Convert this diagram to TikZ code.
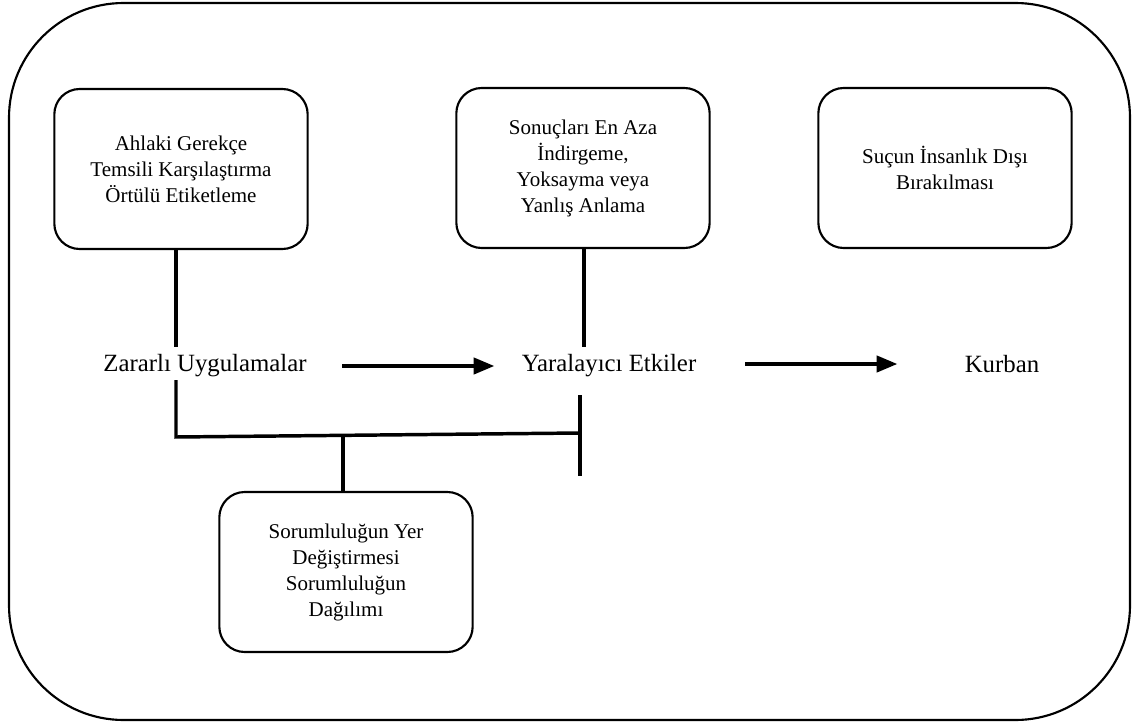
\documentclass[tikz,border=0pt]{standalone}
\usepackage{fontspec}
\setmainfont{Liberation Serif}
\usepackage{tikz}
\usetikzlibrary{arrows}

\tikzset{
	kutu/.style={draw,line width=1.6pt,rounded corners=19pt,minimum width=190pt,minimum height=120pt,align=center,font=\fontsize{15.75}{19.5}\selectfont},
	etiket/.style={font=\fontsize{18.6}{22}\selectfont},
	cizgi/.style={line width=2.6pt}
}

\begin{document}
\begin{tikzpicture}[>=triangle 45,x=0.75pt,y=-0.75pt]
				\useasboundingbox (0,0) rectangle (1138,724);
				\draw[line width=1.6pt,rounded corners=86pt] (9,3) rectangle (1130,720);
				
				\node[kutu] (ahlaki) at (181,169) {Ahlaki Gerekçe\\Temsili Karşılaştırma\\Örtülü Etiketleme};
				\node[kutu] (sonuc) at (583,168) {Sonuçları En Aza\\İndirgeme,\\Yoksayma veya\\Yanlış Anlama};
				\node[kutu] (sucun) at (945,168) {Suçun İnsanlık Dışı\\Bırakılması};
				\node[kutu] (sorum) at (346,572) {Sorumluluğun Yer\\Değiştirmesi\\Sorumluluğun\\Dağılımı};
				
				\node[etiket] (zarar) at (205,366) {Zararlı Uygulamalar};
				\node[etiket] (yara) at (609,366) {Yaralayıcı Etkiler};
				\node[etiket] (kurban) at (1002,364) {Kurban};
				
				\coordinate (u1) at (176,347);
				\coordinate (u2) at (176,380);
				\coordinate (k1) at (176,437);
				\coordinate (k2) at (580,433);
				\coordinate (k3) at (343,436);
				\coordinate (y1) at (584,347);
				\coordinate (y2) at (580,395);
				\coordinate (y3) at (580,476);
				\coordinate (o1) at (342,366);
				\coordinate (o2) at (494,366);
				\coordinate (o3) at (745,364);
				\coordinate (o4) at (897,364);
				
				\draw[cizgi] (ahlaki.south -| u1) -- (u1);
				\draw[cizgi] (u2) -- (k1) -- (k2);
				\draw[cizgi] (k3) -- (k3 |- sorum.north);
				\draw[cizgi] (sonuc.south -| y1) -- (y1);
				\draw[cizgi] (y2) -- (y3);
				
				\draw[cizgi,->] (o1) -- (o2);
				\draw[cizgi,->] (o3) -- (o4);
	\end{tikzpicture}
\end{document}
